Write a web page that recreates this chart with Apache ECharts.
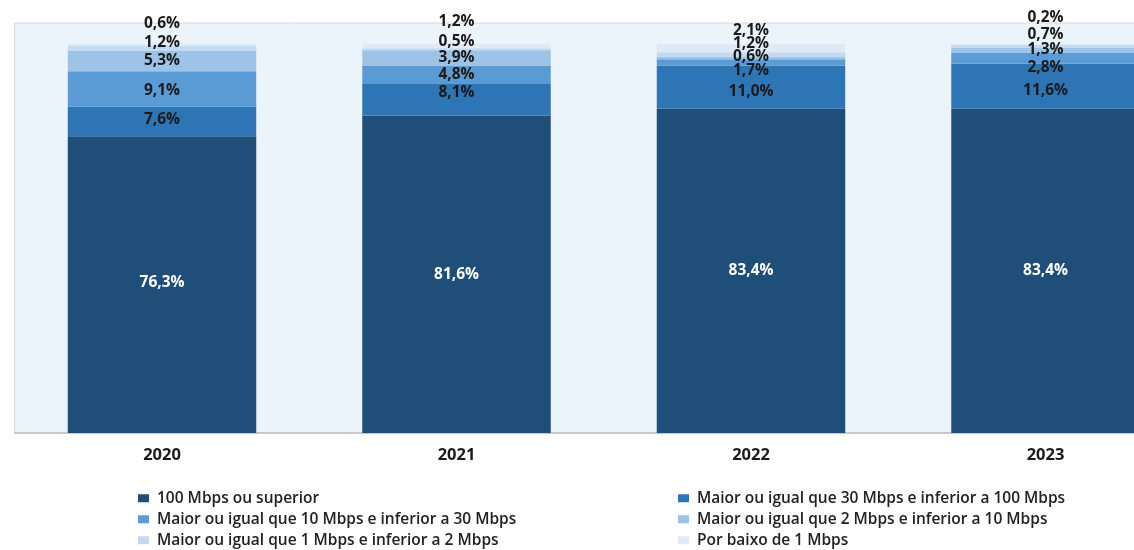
<!DOCTYPE html>
<html>
<head>
<meta charset="utf-8">
<script src="https://cdn.jsdelivr.net/npm/echarts@6/dist/echarts.min.js"></script>
<style>
  html, body { margin: 0; padding: 0; background: #fff; }
  #chart { width: 1134px; height: 550px; }
</style>
</head>
<body>
<div id="chart"></div>
<script>
// anos e faixas de velocidade
const years = ['2020', '2021', '2022', '2023'];
const bands = [
  '100 Mbps ou superior',
  'Maior ou igual que 30 Mbps e inferior a 100 Mbps',
  'Maior ou igual que 10 Mbps e inferior a 30 Mbps',
  'Maior ou igual que 2 Mbps e inferior a 10 Mbps',
  'Maior ou igual que 1 Mbps e inferior a 2 Mbps',
  'Por baixo de 1 Mbps'
];

// percentagens por faixa (2020..2023)
const over100 = [76.3, 81.6, 83.4, 83.4];
const from30to100 = [7.6, 8.1, 11.0, 11.6];
const from10to30 = [9.1, 4.8, 1.7, 2.8];
const from2to10 = [5.3, 3.9, 0.6, 1.3];
const from1to2 = [1.2, 0.5, 1.2, 0.7];
const under1 = [0.6, 1.2, 2.1, 0.2];

const seriesData = [over100, from30to100, from10to30, from2to10, from1to2, under1];
const colors = ['#1F4E79', '#2E75B6', '#5B9BD5', '#9DC3E6', '#C3DAF0', '#DEEBF7'];

// deslocamento vertical das etiquetas (px), para evitar sobreposição
const labelNudge = [
  [-2, 0, 0, 0],
  [-2, -7, 4, 5],
  [2, 0, 8, 10],
  [0, 0, -1, 0],
  [-6, -8, -11, -12],
  [-21, -24, -18, -27]
];

const chart = echarts.init(document.getElementById('chart'));

const series = bands.map((name, s) => ({
  name: name,
  type: 'bar',
  stack: 'total',
  barCategoryGap: '36%',
  itemStyle: { color: colors[s] },
  label: {
    show: true,
    position: 'inside',
    color: s === 0 ? '#ffffff' : '#1a1a1a',
    fontFamily: 'Open Sans',
    fontWeight: 'bold',
    fontSize: 15.5,
    formatter: p => p.value.toFixed(1).replace('.', ',') + '%'
  },
  data: seriesData[s].map((v, i) => ({
    value: v,
    label: { offset: [0, labelNudge[s][i]] }
  }))
}));

const legendBase = {
  orient: 'vertical',
  top: 489.5,
  padding: 0,
  itemWidth: 11,
  itemHeight: 8,
  itemGap: 3.5,
  icon: 'rect',
  textStyle: {
    fontFamily: 'Open Sans',
    fontWeight: 600,
    fontSize: 15.5,
    lineHeight: 17.5,
    color: '#222',
    padding: [0, 0, 0, 3]
  }
};

const option = {
  animation: false,
  backgroundColor: '#ffffff',
  grid: {
    show: true,
    outerBoundsMode: 'none',
    left: 14.75,
    right: -58.75,
    top: 23,
    bottom: 117,
    backgroundColor: '#EBF3FB',
    borderColor: '#D9D9D9',
    borderWidth: 1
  },
  legend: [
    Object.assign({}, legendBase, { data: [bands[0], bands[2], bands[4]], left: 138 }),
    Object.assign({}, legendBase, { data: [bands[1], bands[3], bands[5]], left: 678 })
  ],
  xAxis: {
    type: 'category',
    data: years,
    axisLine: { lineStyle: { color: '#C8C8C8', width: 2 } },
    axisTick: { show: false },
    axisLabel: {
      margin: 14,
      fontFamily: 'Open Sans',
      fontWeight: 'bold',
      fontSize: 16.5,
      color: '#1a1a1a'
    }
  },
  yAxis: {
    type: 'value',
    min: 0,
    max: 105.4,
    show: false,
    splitLine: { show: false }
  },
  series: series
};

chart.setOption(option);
</script>
</body>
</html>
